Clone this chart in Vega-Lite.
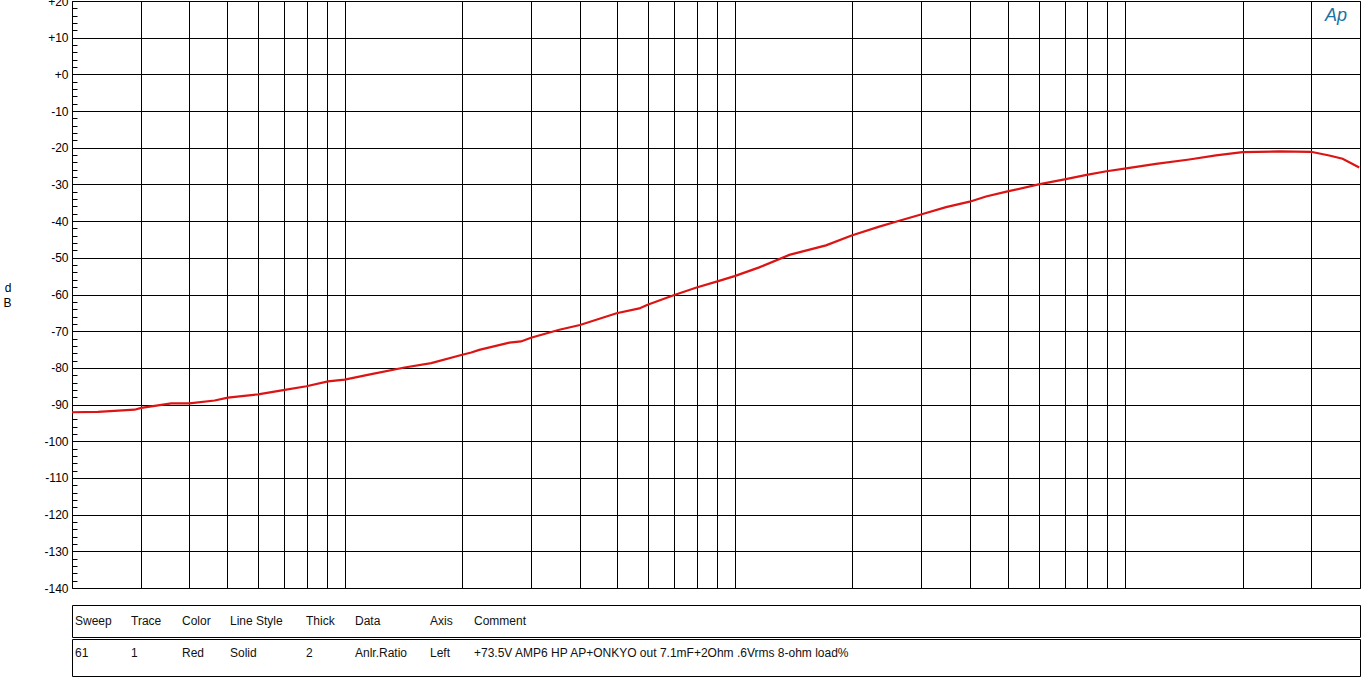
{
  "$schema": "https://vega.github.io/schema/vega-lite/v6.json",
  "background": "white",
  "padding": {"left": 2, "top": -6, "right": 0, "bottom": 0},
  "config": {
    "view": {"stroke": "black", "strokeWidth": 1},
    "font": "Liberation Sans",
    "axis": {"labelFont": "Liberation Sans", "titleFont": "Liberation Sans"}
  },
  "datasets": {
    "curve": [
      {"freq": 10, "db": -92.1},
      {"freq": 11.66, "db": -92.0},
      {"freq": 14.47, "db": -91.4},
      {"freq": 15.05, "db": -90.9},
      {"freq": 17.97, "db": -89.7},
      {"freq": 20.0, "db": -89.7},
      {"freq": 23.2, "db": -88.9},
      {"freq": 25.1, "db": -88.1},
      {"freq": 30.0, "db": -87.2},
      {"freq": 35.1, "db": -86.0},
      {"freq": 39.9, "db": -85.0},
      {"freq": 45.3, "db": -83.7},
      {"freq": 50.0, "db": -83.2},
      {"freq": 58.5, "db": -81.7},
      {"freq": 71.2, "db": -79.9},
      {"freq": 83.3, "db": -78.7},
      {"freq": 99.5, "db": -76.5},
      {"freq": 105.5, "db": -75.8},
      {"freq": 110.6, "db": -75.1},
      {"freq": 132.1, "db": -73.1},
      {"freq": 141.5, "db": -72.8},
      {"freq": 150.1, "db": -71.8},
      {"freq": 177.4, "db": -69.6},
      {"freq": 200.4, "db": -68.3},
      {"freq": 248.7, "db": -65.1},
      {"freq": 284.4, "db": -63.8},
      {"freq": 298.7, "db": -62.8},
      {"freq": 348.3, "db": -60.2},
      {"freq": 398.8, "db": -58.1},
      {"freq": 448.7, "db": -56.5},
      {"freq": 499, "db": -55.0},
      {"freq": 577.3, "db": -52.6},
      {"freq": 689.2, "db": -49.2},
      {"freq": 855.9, "db": -46.6},
      {"freq": 995.5, "db": -43.9},
      {"freq": 1172, "db": -41.5},
      {"freq": 1319, "db": -39.9},
      {"freq": 1499, "db": -38.2},
      {"freq": 1738, "db": -36.2},
      {"freq": 1998, "db": -34.7},
      {"freq": 2200, "db": -33.3},
      {"freq": 2499, "db": -31.9},
      {"freq": 3001, "db": -30.0},
      {"freq": 3499, "db": -28.6},
      {"freq": 3985, "db": -27.4},
      {"freq": 4482, "db": -26.4},
      {"freq": 4985, "db": -25.7},
      {"freq": 6000, "db": -24.4},
      {"freq": 7302, "db": -23.2},
      {"freq": 8548, "db": -22.1},
      {"freq": 10000, "db": -21.2},
      {"freq": 12420, "db": -21.0},
      {"freq": 14970, "db": -21.1},
      {"freq": 16680, "db": -22.1},
      {"freq": 18050, "db": -23.0},
      {"freq": 19915, "db": -25.4}
    ],
    "legend": [
      {"idx": 0, "header": "Sweep", "value": "61"},
      {"idx": 1, "header": "Trace", "value": "1"},
      {"idx": 2, "header": "Color", "value": "Red"},
      {"idx": 3, "header": "Line Style", "value": "Solid"},
      {"idx": 4, "header": "Thick", "value": "2"},
      {"idx": 5, "header": "Data", "value": "Anlr.Ratio"},
      {"idx": 6, "header": "Axis", "value": "Left"},
      {"idx": 7, "header": "Comment", "value": "+73.5V AMP6 HP AP+ONKYO out 7.1mF+2Ohm .6Vrms  8-ohm load%"}
    ]
  },
  "spacing": 9,
  "vconcat": [
    {
      "width": 1288,
      "height": 587,
      "layer": [
        {
          "data": {"name": "curve"},
          "mark": {"type": "line", "color": "#dc1414", "strokeWidth": 2.2, "clip": true},
          "encoding": {
            "x": {
              "field": "freq", "type": "quantitative",
              "scale": {"type": "log", "domain": [10, 20000], "nice": false},
              "axis": {
                "values": [15, 20, 25, 30, 35, 40, 45, 50, 100, 150, 200, 250, 300, 350, 400, 450, 500, 1000, 1500, 2000, 2500, 3000, 3500, 4000, 4500, 5000, 10000, 15000],
                "tickCount": 100,
                "labels": false, "ticks": false, "domain": false,
                "grid": true, "gridColor": "black", "gridWidth": 1, "gridOpacity": 1,
                "title": null
              }
            },
            "y": {
              "field": "db", "type": "quantitative",
              "scale": {"domain": [-140, 20], "nice": false, "zero": false},
              "axis": {
                "values": [-140, -138, -136, -134, -132, -130, -128, -126, -124, -122, -120, -118, -116, -114, -112, -110, -108, -106, -104, -102, -100, -98, -96, -94, -92, -90, -88, -86, -84, -82, -80, -78, -76, -74, -72, -70, -68, -66, -64, -62, -60, -58, -56, -54, -52, -50, -48, -46, -44, -42, -40, -38, -36, -34, -32, -30, -28, -26, -24, -22, -20, -18, -16, -14, -12, -10, -8, -6, -4, -2, 0, 2, 4, 6, 8, 10, 12, 14, 16, 18, 20],
                "tickCount": 200,
                "labelExpr": "datum.value % 10 == 0 ? (datum.value >= 0 ? '+' + datum.value : '' + datum.value) : ''",
                "labelOverlap": false,
                "labelFontSize": 12,
                "labelColor": "black",
                "labelPadding": 9,
                "grid": true, "gridColor": "black", "gridWidth": 1,
                "gridOpacity": {"condition": {"test": "datum.value % 10 != 0", "value": 0}, "value": 1},
                "ticks": true, "tickSize": -5, "tickColor": "black", "tickWidth": 1,
                "domain": false,
                "title": ["d", "B"],
                "titleAngle": 0,
                "titleAlign": "right",
                "titleBaseline": "middle",
                "titleY": 286,
                "titleFontSize": 12,
                "titleFontWeight": "normal",
                "titleColor": "black",
                "titleLineHeight": 15,
                "titlePadding": 18
              }
            }
          }
        },
        {
          "data": {"values": [{"logo": "Ap"}]},
          "mark": {"type": "text", "fontStyle": "italic", "fontSize": 18, "font": "Liberation Sans", "color": "#1a72a4", "align": "right", "baseline": "middle", "dx": -13, "dy": 15},
          "encoding": {
            "x": {"datum": 20000, "type": "quantitative"},
            "y": {"datum": 20, "type": "quantitative"},
            "text": {"field": "logo"}
          }
        }
      ]
    },
    {
      "spacing": 0,
      "vconcat": [
        {
          "data": {"name": "legend"},
          "width": 1288,
          "height": 32,
          "mark": {"type": "text", "align": "left", "baseline": "middle", "fontSize": 12, "color": "#111111"},
          "encoding": {
            "x": {"field": "idx", "type": "quantitative", "scale": {"domain": [0, 1, 2, 3, 4, 5, 6, 7], "range": [3, 59, 110, 158, 234, 283, 358, 402], "zero": false, "nice": false}, "axis": null},
            "text": {"field": "header"}
          }
        },
        {
          "data": {"name": "legend"},
          "width": 1288,
          "height": 37,
          "mark": {"type": "text", "align": "left", "baseline": "middle", "fontSize": 12, "color": "#111111", "dy": -5},
          "encoding": {
            "x": {"field": "idx", "type": "quantitative", "scale": {"domain": [0, 1, 2, 3, 4, 5, 6, 7], "range": [3, 59, 110, 158, 234, 283, 358, 402], "zero": false, "nice": false}, "axis": null},
            "text": {"field": "value"}
          }
        }
      ]
    }
  ]
}
